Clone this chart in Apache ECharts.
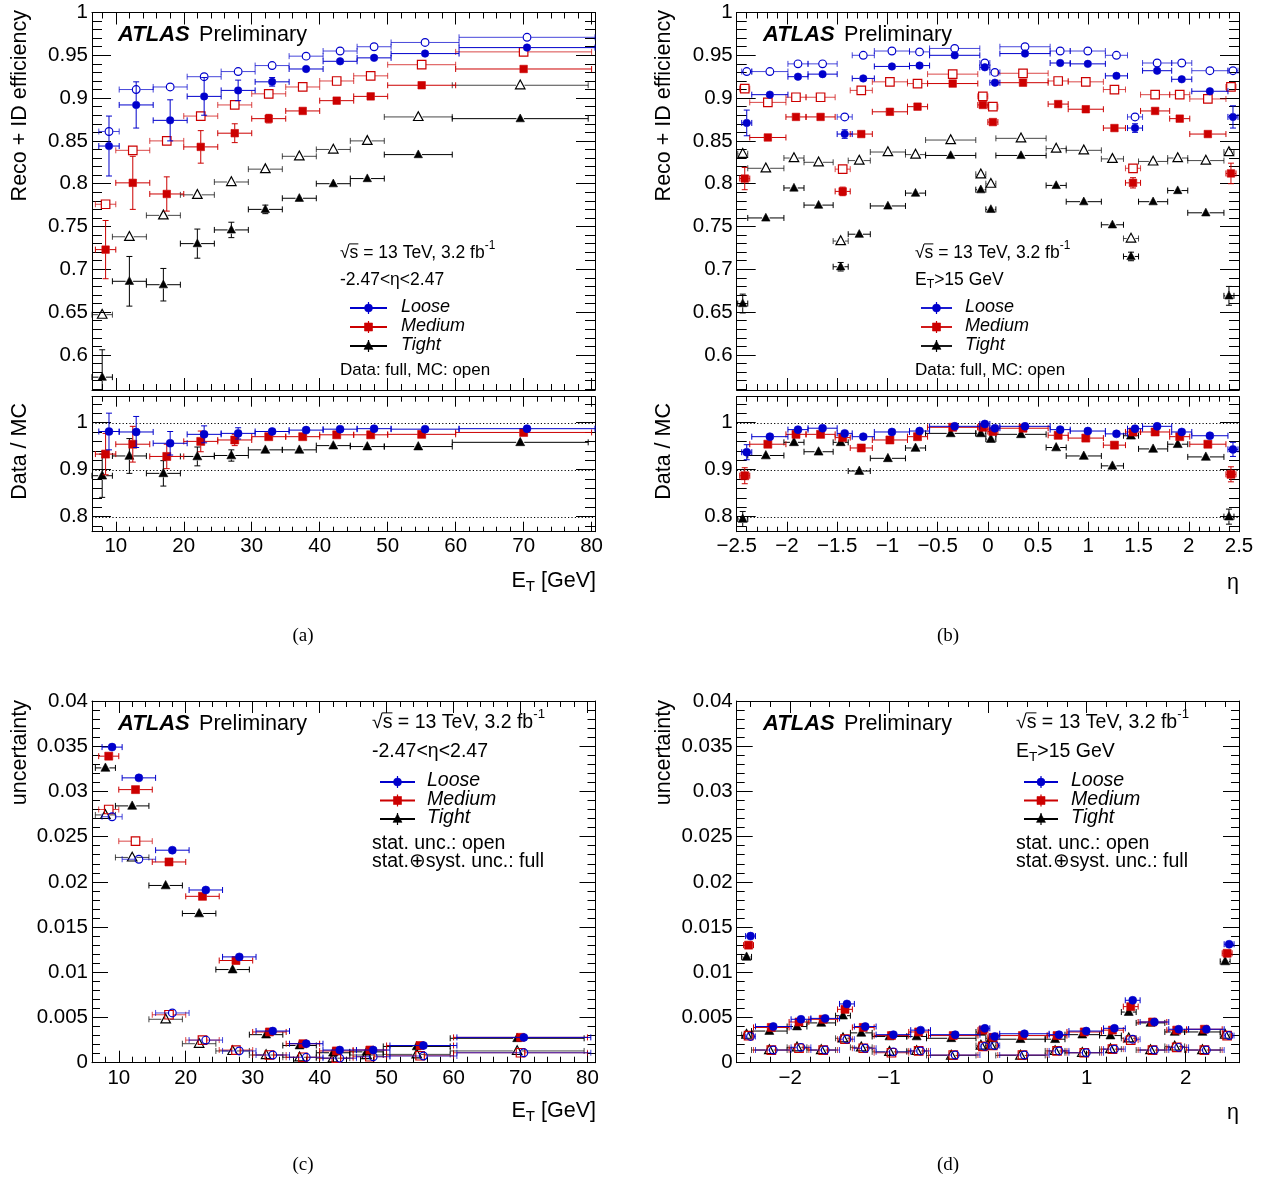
<!DOCTYPE html>
<html>
<head>
<meta charset="utf-8">
<title>ATLAS electron identification efficiency</title>
<script src="https://cdn.jsdelivr.net/npm/echarts@6.0.0/dist/echarts.min.js"></script>
<style>
html,body{margin:0;padding:0;background:#ffffff;}
#chart{width:1263px;height:1180px;}
</style>
</head>
<body>
<div id="chart"></div>
<script>
// ======================= DATA =======================
const etBinEdges = [7, 10, 15, 20, 25, 30, 35, 40, 45, 50, 60, 80];
const etaBinEdges = [-2.47, -2.37, -2.01, -1.81, -1.52, -1.37, -1.15, -0.8, -0.6, -0.1, 0, 0.1, 0.6, 0.8, 1.15, 1.37, 1.52, 1.81, 2.01, 2.37, 2.47];

// (a) efficiency vs ET
const effEtLooseData    = [0.844, 0.892, 0.874, 0.902, 0.909, 0.919, 0.934, 0.943, 0.947, 0.952, 0.959];
const effEtLooseDataErr = [0.035, 0.027, 0.024, 0.022, 0.012, 0.005, 0.004, 0.003, 0.003, 0.002, 0.002];
const effEtLooseMC      = [0.861, 0.910, 0.913, 0.925, 0.931, 0.938, 0.949, 0.955, 0.960, 0.965, 0.971];
const effEtMediumData    = [0.723, 0.801, 0.788, 0.843, 0.859, 0.876, 0.885, 0.897, 0.902, 0.915, 0.934];
const effEtMediumDataErr = [0.034, 0.031, 0.020, 0.019, 0.011, 0.005, 0.004, 0.003, 0.003, 0.002, 0.002];
const effEtMediumMC      = [0.776, 0.839, 0.850, 0.879, 0.892, 0.905, 0.913, 0.920, 0.926, 0.939, 0.954];
const effEtTightData    = [0.574, 0.686, 0.682, 0.730, 0.746, 0.770, 0.783, 0.800, 0.806, 0.834, 0.876];
const effEtTightDataErr = [0.032, 0.029, 0.019, 0.017, 0.009, 0.005, 0.004, 0.003, 0.003, 0.003, 0.002];
const effEtTightMC      = [0.647, 0.738, 0.763, 0.787, 0.802, 0.817, 0.832, 0.840, 0.850, 0.878, 0.915];

// (a) ratio data / MC vs ET
const ratioEtLoose     = [0.981, 0.980, 0.956, 0.975, 0.977, 0.981, 0.984, 0.986, 0.987, 0.986, 0.987];
const ratioEtLooseErr  = [0.039, 0.033, 0.025, 0.018, 0.012, 0.006, 0.005, 0.004, 0.004, 0.003, 0.003];
const ratioEtMedium    = [0.933, 0.954, 0.928, 0.960, 0.963, 0.970, 0.970, 0.974, 0.974, 0.975, 0.979];
const ratioEtMediumErr = [0.044, 0.038, 0.026, 0.022, 0.012, 0.006, 0.005, 0.004, 0.004, 0.003, 0.003];
const ratioEtTight     = [0.887, 0.929, 0.892, 0.928, 0.930, 0.942, 0.942, 0.951, 0.949, 0.949, 0.958];
const ratioEtTightErr  = [0.046, 0.037, 0.027, 0.020, 0.012, 0.006, 0.005, 0.004, 0.004, 0.004, 0.003];

// (b) efficiency vs eta
const effEtaLooseData    = [0.871, 0.904, 0.925, 0.928, 0.858, 0.923, 0.937, 0.938, 0.950, 0.936, 0.918, 0.952, 0.941, 0.940, 0.926, 0.865, 0.932, 0.922, 0.908, 0.878];
const effEtaLooseDataErr = [0.015, 0.004, 0.003, 0.003, 0.005, 0.004, 0.003, 0.003, 0.002, 0.003, 0.003, 0.002, 0.003, 0.003, 0.004, 0.005, 0.003, 0.003, 0.004, 0.013];
const effEtaLooseMC      = [0.931, 0.931, 0.940, 0.940, 0.878, 0.950, 0.955, 0.954, 0.958, 0.941, 0.930, 0.960, 0.955, 0.955, 0.950, 0.878, 0.941, 0.941, 0.932, 0.932];
const effEtaMediumData    = [0.806, 0.854, 0.878, 0.878, 0.791, 0.858, 0.884, 0.890, 0.917, 0.892, 0.872, 0.918, 0.893, 0.887, 0.865, 0.801, 0.885, 0.876, 0.858, 0.812];
const effEtaMediumDataErr = [0.013, 0.004, 0.003, 0.003, 0.005, 0.004, 0.003, 0.003, 0.002, 0.003, 0.003, 0.002, 0.003, 0.003, 0.004, 0.006, 0.003, 0.003, 0.004, 0.012];
const effEtaMediumMC      = [0.911, 0.895, 0.901, 0.901, 0.817, 0.909, 0.919, 0.917, 0.928, 0.902, 0.890, 0.929, 0.920, 0.919, 0.910, 0.818, 0.904, 0.904, 0.899, 0.913];
const effEtaTightData    = [0.660, 0.760, 0.795, 0.775, 0.703, 0.741, 0.774, 0.789, 0.833, 0.793, 0.770, 0.833, 0.798, 0.779, 0.752, 0.715, 0.779, 0.792, 0.766, 0.669];
const effEtaTightDataErr = [0.011, 0.004, 0.003, 0.003, 0.005, 0.004, 0.003, 0.003, 0.002, 0.003, 0.003, 0.002, 0.003, 0.003, 0.004, 0.005, 0.003, 0.003, 0.004, 0.011];
const effEtaTightMC      = [0.835, 0.818, 0.830, 0.825, 0.733, 0.827, 0.837, 0.834, 0.851, 0.811, 0.800, 0.853, 0.841, 0.839, 0.829, 0.736, 0.826, 0.830, 0.827, 0.837];

// (b) ratio data / MC vs eta
const ratioEtaLoose     = [0.937, 0.970, 0.985, 0.988, 0.977, 0.970, 0.980, 0.982, 0.992, 0.997, 0.988, 0.992, 0.985, 0.982, 0.976, 0.987, 0.992, 0.980, 0.972, 0.943];
const ratioEtaLooseErr  = [0.016, 0.005, 0.004, 0.004, 0.006, 0.005, 0.004, 0.004, 0.003, 0.004, 0.004, 0.003, 0.004, 0.004, 0.005, 0.006, 0.004, 0.004, 0.005, 0.015];
const ratioEtaMedium    = [0.887, 0.954, 0.975, 0.975, 0.968, 0.946, 0.963, 0.970, 0.990, 0.990, 0.981, 0.988, 0.973, 0.967, 0.952, 0.980, 0.980, 0.970, 0.954, 0.890];
const ratioEtaMediumErr = [0.017, 0.005, 0.004, 0.004, 0.007, 0.005, 0.004, 0.004, 0.003, 0.004, 0.004, 0.003, 0.004, 0.004, 0.005, 0.007, 0.004, 0.004, 0.005, 0.016];
const ratioEtaTight     = [0.795, 0.930, 0.958, 0.938, 0.958, 0.897, 0.924, 0.946, 0.977, 0.977, 0.965, 0.975, 0.947, 0.929, 0.908, 0.972, 0.944, 0.954, 0.927, 0.800];
const ratioEtaTightErr  = [0.016, 0.005, 0.004, 0.004, 0.007, 0.005, 0.004, 0.004, 0.003, 0.004, 0.004, 0.003, 0.004, 0.004, 0.005, 0.007, 0.004, 0.004, 0.005, 0.016];

// (c) uncertainty vs ET  (Tot = stat (+) syst, Stat = stat only)
const uncEtLooseTot   = [0.0349, 0.0315, 0.0235, 0.0191, 0.0117, 0.0035, 0.0021, 0.0014, 0.0014, 0.0019, 0.0028];
const uncEtLooseStat  = [0.0272, 0.0225, 0.0055, 0.0025, 0.0013, 0.00085, 0.0006, 0.0005, 0.00066, 0.00074, 0.0011];
const uncEtMediumTot  = [0.0339, 0.0302, 0.0222, 0.0184, 0.0113, 0.0034, 0.0021, 0.0013, 0.0014, 0.0019, 0.0028];
const uncEtMediumStat = [0.0280, 0.0245, 0.0053, 0.0025, 0.0014, 0.00085, 0.0006, 0.0005, 0.00066, 0.00077, 0.0011];
const uncEtTightTot   = [0.0326, 0.0284, 0.0196, 0.0165, 0.0103, 0.0031, 0.0019, 0.0011, 0.0012, 0.0018, 0.0027];
const uncEtTightStat  = [0.0274, 0.0227, 0.0048, 0.0021, 0.0013, 0.00085, 0.0006, 0.0005, 0.00085, 0.00092, 0.0013];

// (d) uncertainty vs eta
const uncEtaLooseTot   = [0.0140, 0.0040, 0.0048, 0.0049, 0.0065, 0.0040, 0.0031, 0.0036, 0.0031, 0.0038, 0.0029, 0.0032, 0.0031, 0.0035, 0.0038, 0.0069, 0.0045, 0.0037, 0.0037, 0.0131];
const uncEtaLooseStat  = [0.0029, 0.0014, 0.0017, 0.0014, 0.0026, 0.0016, 0.0012, 0.0013, 0.00085, 0.0018, 0.0019, 0.00085, 0.0013, 0.0011, 0.0015, 0.0026, 0.0014, 0.0017, 0.0014, 0.0030];
const uncEtaMediumTot  = [0.0130, 0.0039, 0.0045, 0.0048, 0.0059, 0.0039, 0.0030, 0.0034, 0.0030, 0.0036, 0.0028, 0.0030, 0.0030, 0.0034, 0.0036, 0.0062, 0.0045, 0.0036, 0.0037, 0.0121];
const uncEtaMediumStat = [0.0030, 0.0014, 0.0016, 0.0014, 0.0026, 0.0016, 0.0011, 0.0013, 0.00085, 0.0018, 0.0019, 0.00085, 0.0013, 0.0011, 0.0015, 0.0025, 0.0014, 0.0017, 0.0014, 0.0030];
const uncEtaTightTot   = [0.0117, 0.0035, 0.0040, 0.0044, 0.0052, 0.0033, 0.0029, 0.0029, 0.0027, 0.0034, 0.0027, 0.0026, 0.0026, 0.0031, 0.0030, 0.0056, 0.0044, 0.0034, 0.0034, 0.0112];
const uncEtaTightStat  = [0.0031, 0.0014, 0.0017, 0.0014, 0.0027, 0.0017, 0.0012, 0.0013, 0.0008, 0.0019, 0.0019, 0.0008, 0.0013, 0.0011, 0.0015, 0.0027, 0.0014, 0.0018, 0.0014, 0.0031];

// tick labels
const effTickLabels   = ['0.6', '0.65', '0.7', '0.75', '0.8', '0.85', '0.9', '0.95', '1'];
const ratioTickLabels = ['0.8', '0.9', '1'];
const ratioRefLevels  = [0.8, 0.9, 1.0];
const etTickLabels    = ['10', '20', '30', '40', '50', '60', '70', '80'];
const etaTickLabels   = ['\u22122.5', '\u22122', '\u22121.5', '\u22121', '\u22120.5', '0', '0.5', '1', '1.5', '2', '2.5'];
const uncTickLabels   = ['0', '0.005', '0.01', '0.015', '0.02', '0.025', '0.03', '0.035', '0.04'];
const etaTickLabelsD  = ['\u22122', '\u22121', '0', '1', '2'];
const menuNames = ['Loose', 'Medium', 'Tight'];

// ======================= STYLE / LAYOUT =======================
const FONT = '"Liberation Sans", Arial, Helvetica, sans-serif';
const SERIF = '"Liberation Serif", "Times New Roman", serif';
const BLUE = '#0000cc', RED = '#cc0000', BLACK = '#000000';
const MC_LINE_OPACITY = 0.72;

const grids = [], xAxes = [], yAxes = [], series = [], gfx = [];

function labelFmt(list) {
  return function (v) {
    for (let i = 0; i < list.length; i++) {
      const n = parseFloat(list[i].replace('\u2212', '-'));
      if (Math.abs(n - v) < 1e-7) return list[i];
    }
    return '';
  };
}

function axisCfg(gridIndex, position, r, showLabels) {
  const iv = r.interval;
  return {
    type: 'value', gridIndex: gridIndex, position: position,
    min: r.min, max: r.max, minInterval: iv, maxInterval: iv,
    splitNumber: Math.max(1, Math.round((r.max - r.min) / iv)),
    axisLine: { show: true, onZero: false, lineStyle: { color: '#000', width: 1 } },
    axisTick: { show: true, inside: true, length: r.tick, lineStyle: { color: '#000', width: 1 } },
    minorTick: { show: true, splitNumber: r.minor, length: r.minorTick, lineStyle: { color: '#000', width: 1 } },
    splitLine: { show: false }, minorSplitLine: { show: false },
    axisLabel: {
      show: showLabels, margin: r.margin, color: '#000', fontSize: r.font, fontFamily: FONT,
      formatter: labelFmt(r.labels || []), showMinLabel: true, showMaxLabel: true
    },
    silent: true
  };
}

function addPanel(rect, xr, yr, showX) {
  const g = grids.length;
  grids.push({ left: rect[0], top: rect[1], width: rect[2], height: rect[3], containLabel: false, outerBoundsMode: 'none' });
  const xi = xAxes.length;
  xAxes.push(axisCfg(g, 'bottom', xr, showX));
  xAxes.push(axisCfg(g, 'top', xr, false));
  const yi = yAxes.length;
  yAxes.push(axisCfg(g, 'left', yr, true));
  yAxes.push(axisCfg(g, 'right', yr, false));
  return { xi: xi, yi: yi, x: xr };
}

function binPoints(edges, vals, errs, shift) {
  return vals.map(function (v, i) {
    const lo = edges[i] + shift, hi = edges[i + 1] + shift;
    return [(lo + hi) / 2, v, lo, hi, errs ? errs[i] : 0];
  });
}

function markerShape(kind, cx, cy, s, color, filled) {
  const st = filled ? { fill: color, stroke: color, lineWidth: 0.6 } : { fill: 'none', stroke: color, lineWidth: 1.2 };
  const r = s / 2;
  if (kind === 'circle') return { type: 'circle', shape: { cx: cx, cy: cy, r: filled ? r : r - 0.4 }, style: st };
  if (kind === 'square') return { type: 'rect', shape: { x: cx - r, y: cy - r, width: s, height: s }, style: st };
  return { type: 'polygon', shape: { points: [[cx, cy - 0.62 * s], [cx - 0.56 * s, cy + 0.42 * s], [cx + 0.56 * s, cy + 0.42 * s]] }, style: st };
}

function makeRenderer(marker, color, filled, size, lineOpacity) {
  return function (params, api) {
    const cs = params.coordSys;
    const x = api.value(0), y = api.value(1), xlo = api.value(2), xhi = api.value(3), e = api.value(4);
    const c = api.coord([x, y]);
    const r = size / 2, capH = 3, capW = 3;
    const xmin = cs.x, xmax = cs.x + cs.width, ymin = cs.y, ymax = cs.y + cs.height;
    const ls = { stroke: color, lineWidth: 1, opacity: lineOpacity };
    const kids = [];
    function seg(x1, y1, x2, y2) { kids.push({ type: 'line', shape: { x1: x1, y1: y1, x2: x2, y2: y2 }, style: ls }); }
    let L = api.coord([xlo, y])[0], R = api.coord([xhi, y])[0];
    const Lc = L < xmin, Rc = R > xmax;
    L = Math.max(L, xmin); R = Math.min(R, xmax);
    if (c[0] - r > L) seg(L, c[1], c[0] - r, c[1]);
    if (R > c[0] + r) seg(c[0] + r, c[1], R, c[1]);
    if (!Lc) seg(L, c[1] - capH, L, c[1] + capH);
    if (!Rc) seg(R, c[1] - capH, R, c[1] + capH);
    if (e > 0) {
      let T = api.coord([x, y + e])[1], B = api.coord([x, y - e])[1];
      const Tc = T < ymin, Bc = B > ymax;
      T = Math.max(T, ymin); B = Math.min(B, ymax);
      if (c[1] - r > T) { seg(c[0], T, c[0], c[1] - r); if (!Tc) seg(c[0] - capW, T, c[0] + capW, T); }
      if (B > c[1] + r) { seg(c[0], c[1] + r, c[0], B); if (!Bc) seg(c[0] - capW, B, c[0] + capW, B); }
    }
    kids.push(markerShape(marker, c[0], c[1], size, color, filled));
    return { type: 'group', children: kids };
  };
}

function errSeries(p, pts, marker, color, filled, size, lineOpacity, z) {
  series.push({
    type: 'custom', coordinateSystem: 'cartesian2d', xAxisIndex: p.xi, yAxisIndex: p.yi,
    data: pts, renderItem: makeRenderer(marker, color, filled, size, lineOpacity),
    silent: true, animation: false, z: z, clip: false
  });
}

function refLines(p, levels) {
  series.push({
    type: 'custom', coordinateSystem: 'cartesian2d', xAxisIndex: p.xi, yAxisIndex: p.yi,
    data: levels.map(function (l) { return [p.x.min, l]; }), silent: true, animation: false, z: 1,
    renderItem: function (params, api) {
      const cs = params.coordSys;
      const yy = Math.round(api.coord([api.value(0), api.value(1)])[1]) + 0.5;
      return { type: 'line', shape: { x1: cs.x, y1: yy, x2: cs.x + cs.width, y2: yy }, style: { stroke: '#000', lineWidth: 1, lineDash: [1.2, 2.2] } };
    }
  });
}

// ---- text helpers ----
const measCtx = document.createElement('canvas').getContext('2d');
function fontStr(p) { return (p.it ? 'italic ' : '') + (p.b ? 'bold ' : '') + p.size + 'px ' + (p.family || FONT); }
function tw(p) { measCtx.font = fontStr(p); return measCtx.measureText(p.t).width; }
function textRun(x, y, pieces, align) {
  const w = pieces.map(tw);
  const total = w.reduce(function (a, b) { return a + b; }, 0);
  let cx = align === 'right' ? x - total : (align === 'center' ? x - total / 2 : x);
  const starts = [];
  pieces.forEach(function (p, i) {
    starts.push(cx);
    gfx.push({
      type: 'text', x: cx, y: y + (p.dy || 0), silent: true, z: 100,
      style: { text: p.t, fontSize: p.size, fontFamily: p.family || FONT, fontStyle: p.it ? 'italic' : 'normal', fontWeight: p.b ? 'bold' : 'normal', fill: '#000', align: 'left', verticalAlign: 'middle' }
    });
    cx += w[i];
  });
  return { starts: starts, widths: w };
}
function rotText(text, x, y, size) {
  gfx.push({ type: 'text', x: x, y: y, rotation: Math.PI / 2, silent: true, z: 100,
    style: { text: text, fontSize: size, fontFamily: FONT, fill: '#000', align: 'right', verticalAlign: 'middle' } });
}
function sqrtsLine(x, y, size) {
  const res = textRun(x, y, [
    { t: '\u221A', size: size }, { t: 's', size: size }, { t: ' = 13 TeV, 3.2 fb', size: size },
    { t: '-1', size: size * 0.68, dy: -size * 0.42 }
  ], 'left');
  const ox = res.starts[1], ow = res.widths[1];
  gfx.push({ type: 'line', silent: true, z: 100, shape: { x1: ox - 0.5, y1: y - size * 0.52, x2: ox + ow, y2: y - size * 0.52 }, style: { stroke: '#000', lineWidth: 1 } });
}
function etSub(x, y, size, rest, align) {
  textRun(x, y, [{ t: 'E', size: size }, { t: 'T', size: size * 0.7, dy: size * 0.28 }, { t: rest, size: size }], align);
}
function legendEntry(x1, x2, y, marker, color, size, label, textX, fs) {
  const mx = (x1 + x2) / 2;
  gfx.push({ type: 'line', silent: true, z: 100, shape: { x1: x1, y1: y, x2: x2, y2: y }, style: { stroke: color, lineWidth: 1.8 } });
  gfx.push({ type: 'line', silent: true, z: 100, shape: { x1: mx, y1: y - 6, x2: mx, y2: y + 6 }, style: { stroke: color, lineWidth: 1.2 } });
  const m = markerShape(marker, mx, y, size, color, true); m.silent = true; m.z = 101;
  gfx.push(m);
  textRun(textX, y - 1, [{ t: label, size: fs, it: true }], 'left');
}

// ======================= PANELS =======================
const TICKFONT = 20.5;
const xA = { min: 6.5, max: 80.5, interval: 10, minor: 5, tick: 12, minorTick: 6, margin: 4, font: TICKFONT, labels: etTickLabels };
const xAr = Object.assign({}, xA, { tick: 10, minorTick: 5 });
const xB = { min: -2.5, max: 2.5, interval: 0.5, minor: 5, tick: 12, minorTick: 6, margin: 4, font: TICKFONT, labels: etaTickLabels };
const xBr = Object.assign({}, xB, { tick: 10, minorTick: 5 });
const xC = { min: 6.0, max: 81.2, interval: 10, minor: 5, tick: 12, minorTick: 6, margin: 5, font: TICKFONT, labels: etTickLabels };
const xD = { min: -2.54, max: 2.54, interval: 1, minor: 5, tick: 12, minorTick: 6, margin: 5, font: TICKFONT, labels: etaTickLabelsD };
const yEff = { min: 0.559, max: 1.0, interval: 0.05, minor: 5, tick: 19, minorTick: 10, margin: 4, font: TICKFONT, labels: effTickLabels };
const yRat = { min: 0.768, max: 1.055, interval: 0.1, minor: 5, tick: 19, minorTick: 10, margin: 4, font: TICKFONT, labels: ratioTickLabels };
const yUnc = { min: 0, max: 0.04, interval: 0.005, minor: 5, tick: 16, minorTick: 8, margin: 4, font: TICKFONT, labels: uncTickLabels };

const PA  = addPanel([92, 12.5, 503, 377.5], xA, yEff, false);
const PAr = addPanel([92, 396.7, 503, 135], xAr, yRat, true);
const PB  = addPanel([736.7, 12.5, 502.3, 377.5], xB, yEff, false);
const PBr = addPanel([736.7, 396.7, 502.3, 135], xBr, yRat, true);
const PC  = addPanel([92, 701, 503.5, 361.7], xC, yUnc, true);
const PD  = addPanel([736.7, 701, 502.3, 361.7], xD, yUnc, true);

const shiftEt = [0.5, 0, -0.5];     // visual horizontal offsets Loose / Medium / Tight
const shiftEta = [0.02, 0, -0.02];
const colors = [BLUE, RED, BLACK];
const markers = ['circle', 'square', 'triangle'];

// (a)
const aMC   = [effEtLooseMC, effEtMediumMC, effEtTightMC];
const aDat  = [effEtLooseData, effEtMediumData, effEtTightData];
const aErr  = [effEtLooseDataErr, effEtMediumDataErr, effEtTightDataErr];
const aR    = [ratioEtLoose, ratioEtMedium, ratioEtTight];
const aRE   = [ratioEtLooseErr, ratioEtMediumErr, ratioEtTightErr];
// (b)
const bMC   = [effEtaLooseMC, effEtaMediumMC, effEtaTightMC];
const bDat  = [effEtaLooseData, effEtaMediumData, effEtaTightData];
const bErr  = [effEtaLooseDataErr, effEtaMediumDataErr, effEtaTightDataErr];
const bR    = [ratioEtaLoose, ratioEtaMedium, ratioEtaTight];
const bRE   = [ratioEtaLooseErr, ratioEtaMediumErr, ratioEtaTightErr];
// (c), (d)
const cTot  = [uncEtLooseTot, uncEtMediumTot, uncEtTightTot];
const cStat = [uncEtLooseStat, uncEtMediumStat, uncEtTightStat];
const dTot  = [uncEtaLooseTot, uncEtaMediumTot, uncEtaTightTot];
const dStat = [uncEtaLooseStat, uncEtaMediumStat, uncEtaTightStat];

refLines(PAr, ratioRefLevels);
refLines(PBr, ratioRefLevels);

for (let k = 2; k >= 0; k--) {
  errSeries(PA, binPoints(etBinEdges, aMC[k], null, shiftEt[k]), markers[k], colors[k], false, 8.5, MC_LINE_OPACITY, 3);
  errSeries(PB, binPoints(etaBinEdges, bMC[k], null, shiftEta[k]), markers[k], colors[k], false, 8.5, MC_LINE_OPACITY, 3);
  errSeries(PC, binPoints(etBinEdges, cStat[k], null, shiftEt[k]), markers[k], colors[k], false, 8.5, MC_LINE_OPACITY, 3);
  errSeries(PD, binPoints(etaBinEdges, dStat[k], null, shiftEta[k]), markers[k], colors[k], false, 8.5, MC_LINE_OPACITY, 3);
}
for (let k = 2; k >= 0; k--) {
  errSeries(PA, binPoints(etBinEdges, aDat[k], aErr[k], shiftEt[k]), markers[k], colors[k], true, 7.5, 1, 4);
  errSeries(PB, binPoints(etaBinEdges, bDat[k], bErr[k], shiftEta[k]), markers[k], colors[k], true, 7.5, 1, 4);
  errSeries(PAr, binPoints(etBinEdges, aR[k], aRE[k], shiftEt[k]), markers[k], colors[k], true, 8, 1, 4);
  errSeries(PBr, binPoints(etaBinEdges, bR[k], bRE[k], shiftEta[k]), markers[k], colors[k], true, 8, 1, 4);
  errSeries(PC, binPoints(etBinEdges, cTot[k], null, shiftEt[k]), markers[k], colors[k], true, 8, 1, 4);
  errSeries(PD, binPoints(etaBinEdges, dTot[k], null, shiftEta[k]), markers[k], colors[k], true, 8, 1, 4);
}

// ======================= TEXT =======================
function atlasLabel(x, y) {
  textRun(x, y, [{ t: 'ATLAS', size: 22, it: true, b: true }], 'left');
  textRun(x + 81, y, [{ t: 'Preliminary', size: 21.6 }], 'left');
}
// (a)
atlasLabel(118, 35);
sqrtsLine(340, 253, 17.5);
textRun(340, 280, [{ t: '-2.47<\u03B7<2.47', size: 17.5 }], 'left');
for (let k = 0; k < 3; k++) legendEntry(350, 387, 308 + 19 * k, markers[k], colors[k], 8, menuNames[k], 401, 18);
textRun(340, 370, [{ t: 'Data: full, MC: open', size: 17 }], 'left');
// (b)
atlasLabel(763, 35);
sqrtsLine(915, 253, 17.5);
etSub(915, 280, 17.5, '>15 GeV', 'left');
for (let k = 0; k < 3; k++) legendEntry(921, 952, 308 + 19 * k, markers[k], colors[k], 8, menuNames[k], 965, 18);
textRun(915, 370, [{ t: 'Data: full, MC: open', size: 17 }], 'left');
// (c)
atlasLabel(118, 724);
sqrtsLine(372, 723, 19.5);
textRun(372, 752, [{ t: '-2.47<\u03B7<2.47', size: 19.5 }], 'left');
for (let k = 0; k < 3; k++) legendEntry(380, 415, 782 + 18.5 * k, markers[k], colors[k], 8, menuNames[k], 427, 19.5);
textRun(372, 844, [{ t: 'stat. unc.: open', size: 19.5 }], 'left');
textRun(372, 862, [{ t: 'stat.\u2295syst. unc.: full', size: 19.5 }], 'left');
// (d)
atlasLabel(763, 724);
sqrtsLine(1016, 723, 19.5);
etSub(1016, 752, 19.5, '>15 GeV', 'left');
for (let k = 0; k < 3; k++) legendEntry(1024, 1058, 782 + 18.5 * k, markers[k], colors[k], 8, menuNames[k], 1071, 19.5);
textRun(1016, 844, [{ t: 'stat. unc.: open', size: 19.5 }], 'left');
textRun(1016, 862, [{ t: 'stat.\u2295syst. unc.: full', size: 19.5 }], 'left');

// axis titles
const TITLEFONT = 21.5;
rotText('Reco + ID efficiency', 20, 10, TITLEFONT);
rotText('Data / MC', 20, 403, TITLEFONT);
rotText('uncertainty', 20, 700, TITLEFONT);
rotText('Reco + ID efficiency', 664, 10, TITLEFONT);
rotText('Data / MC', 664, 403, TITLEFONT);
rotText('uncertainty', 664, 700, TITLEFONT);
etSub(596, 581, TITLEFONT, ' [GeV]', 'right');
textRun(1239, 583, [{ t: '\u03B7', size: TITLEFONT }], 'right');
etSub(596, 1111, TITLEFONT, ' [GeV]', 'right');
textRun(1239, 1113, [{ t: '\u03B7', size: TITLEFONT }], 'right');

// captions
textRun(303, 636, [{ t: '(a)', size: 19, family: SERIF }], 'center');
textRun(948, 636, [{ t: '(b)', size: 19, family: SERIF }], 'center');
textRun(303, 1165, [{ t: '(c)', size: 19, family: SERIF }], 'center');
textRun(948, 1165, [{ t: '(d)', size: 19, family: SERIF }], 'center');

const chart = echarts.init(document.getElementById('chart'), null, { renderer: 'canvas' });
chart.setOption({
  animation: false,
  backgroundColor: '#ffffff',
  grid: grids,
  xAxis: xAxes,
  yAxis: yAxes,
  series: series,
  graphic: { elements: gfx }
});
</script>
</body>
</html>
